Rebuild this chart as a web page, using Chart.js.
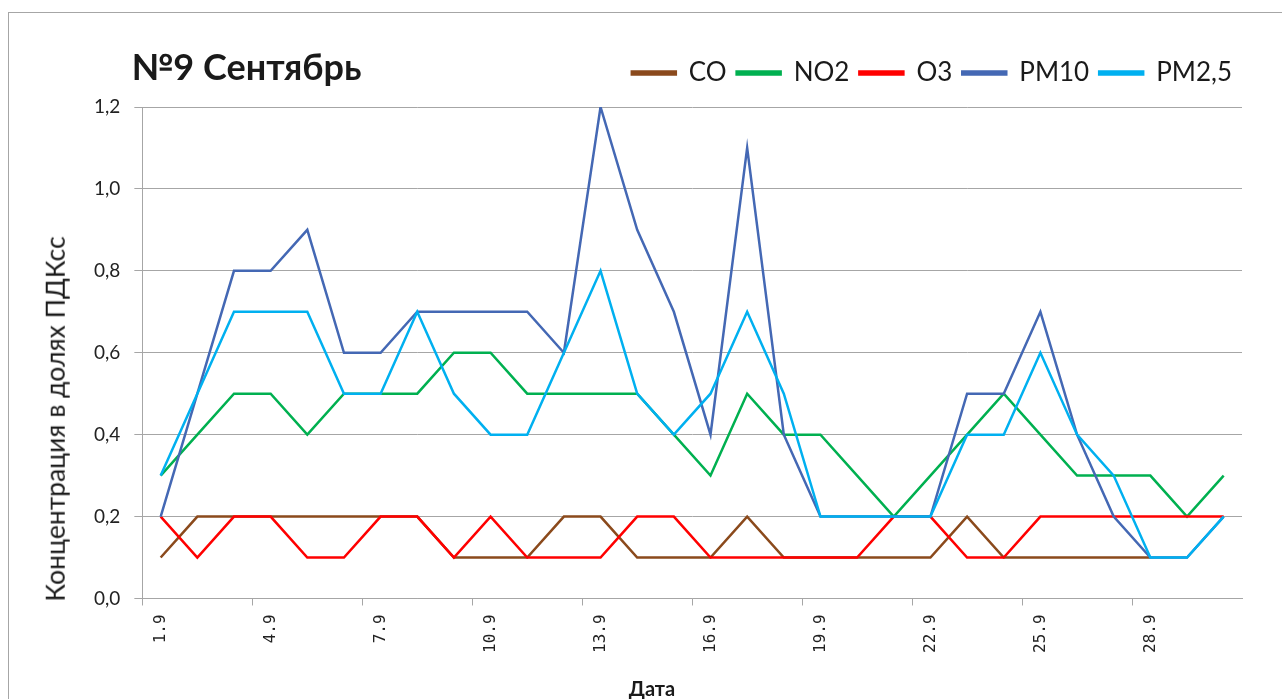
<!DOCTYPE html>
<html>
<head>
<meta charset="utf-8">
<script src="https://cdn.jsdelivr.net/npm/chart.js@4.4.1/dist/chart.umd.min.js"></script>
<style>
  html, body { margin: 0; padding: 0; background: #fff; }
  #wrap { position: relative; width: 1282px; height: 699px; overflow: hidden; }
  #frame { position: absolute; left: 8px; top: 12px; right: -2px; bottom: -2px;
           border-top: 1px solid #a6a6a6; border-left: 1px solid #a6a6a6; }
  canvas { position: absolute; left: 0; top: 0; }
  .txt { position: absolute; font-family: Lato, sans-serif; color: #1a1a1a; white-space: nowrap; line-height: 1; }
  #title { left: 131px; top: 48px; font-size: 36px; font-weight: 700; }
  #ytitle { left: 55px; top: 419px; font-size: 26.5px; transform: translate(-50%, -50%) rotate(-90deg); }
  #xtitle { left: 652px; top: 688px; font-size: 20px; font-weight: 700; transform: translate(-50%, -50%); }
</style>
</head>
<body>
<div id="wrap">
  <div id="frame"></div>
  <canvas id="chart" width="1282" height="699"></canvas>
  <div class="txt" id="title">№9 Сентябрь</div>
  <div class="txt" id="ytitle">Концентрация в долях ПДКсс</div>
  <div class="txt" id="xtitle">Дата</div>
</div>
<script>
const days = ['1.9','2.9','3.9','4.9','5.9','6.9','7.9','8.9','9.9','10.9',
  '11.9','12.9','13.9','14.9','15.9','16.9','17.9','18.9','19.9','20.9',
  '21.9','22.9','23.9','24.9','25.9','26.9','27.9','28.9','29.9','30.9'];

const co   = [0.1,0.2,0.2,0.2,0.2,0.2,0.2,0.2,0.1,0.1, 0.1,0.2,0.2,0.1,0.1,0.1,0.2,0.1,0.1,0.1, 0.1,0.1,0.2,0.1,0.1,0.1,0.1,0.1,null,null];
const no2  = [0.3,0.4,0.5,0.5,0.4,0.5,0.5,0.5,0.6,0.6, 0.5,0.5,0.5,0.5,0.4,0.3,0.5,0.4,0.4,0.3, 0.2,0.3,0.4,0.5,0.4,0.3,0.3,0.3,0.2,0.3];
const o3   = [0.2,0.1,0.2,0.2,0.1,0.1,0.2,0.2,0.1,0.2, 0.1,0.1,0.1,0.2,0.2,0.1,0.1,0.1,0.1,0.1, 0.2,0.2,0.1,0.1,0.2,0.2,0.2,0.2,0.2,0.2];
const pm10 = [0.2,0.5,0.8,0.8,0.9,0.6,0.6,0.7,0.7,0.7, 0.7,0.6,1.2,0.9,0.7,0.4,1.1,0.4,0.2,0.2, 0.2,0.2,0.5,0.5,0.7,0.4,0.2,0.1,0.1,0.2];
const pm25 = [0.3,0.5,0.7,0.7,0.7,0.5,0.5,0.7,0.5,0.4, 0.4,0.6,0.8,0.5,0.4,0.5,0.7,0.5,0.2,0.2, 0.2,0.2,0.4,0.4,0.6,0.4,0.3,0.1,0.1,0.2];

const seriesNames  = ['CO', 'NO2', 'O3', 'PM10', 'PM2,5'];
const seriesValues = [co, no2, o3, pm10, pm25];
const seriesColors = ['#8b4a1c', '#00b050', '#ff0000', '#4468b4', '#00b0f0'];

const gridGray = '#a6a6a6';

const datasets = seriesNames.map((name, i) => ({
  label: name,
  data: seriesValues[i],
  borderColor: seriesColors[i],
  backgroundColor: seriesColors[i],
  borderWidth: 2.5,
  pointRadius: 0,
  tension: 0,
  // excel draws later series on top
  order: seriesNames.length - i
}));

// a bit of room between legend and plot
const legendGap = {
  id: 'legendGap',
  beforeInit(chart) {
    const fit = chart.legend.fit;
    chart.legend.fit = function () {
      fit.call(this);
      this.height += 11;
    };
  }
};

new Chart(document.getElementById('chart'), {
  type: 'line',
  data: { labels: days, datasets: datasets },
  plugins: [legendGap],
  options: {
    responsive: false,
    animation: false,
    layout: { padding: { left: 80, right: 40, top: 50, bottom: 37 } },
    plugins: {
      title: { display: false },
      tooltip: { enabled: false },
      legend: {
        position: 'top',
        align: 'end',
        labels: {
          boxWidth: 44,
          boxHeight: 3,
          padding: 10,
          color: '#1a1a1a',
          font: { family: 'Lato', size: 26 },
          sort: (a, b) => a.datasetIndex - b.datasetIndex
        }
      }
    },
    scales: {
      x: {
        offset: true,
        grid: {
          offset: true,
          drawOnChartArea: false,
          tickLength: 7,
          color: ctx => ctx.index % 3 === 0 ? gridGray : 'rgba(0,0,0,0)'
        },
        border: { color: gridGray },
        ticks: {
          autoSkip: false,
          maxRotation: 90,
          minRotation: 90,
          padding: 9,
          color: '#222',
          font: { family: 'DejaVu Sans Mono', size: 16 },
          callback: function (val, idx) { return idx % 3 === 0 ? this.getLabelForValue(val) : ''; }
        }
      },
      y: {
        min: 0,
        max: 1.2,
        grid: { color: gridGray, tickLength: 8 },
        border: { color: gridGray },
        ticks: {
          stepSize: 0.2,
          padding: 14,
          color: '#222',
          font: { family: 'Lato', size: 19 },
          callback: v => v.toFixed(1).replace('.', ',')
        }
      }
    }
  }
});
</script>
</body>
</html>
